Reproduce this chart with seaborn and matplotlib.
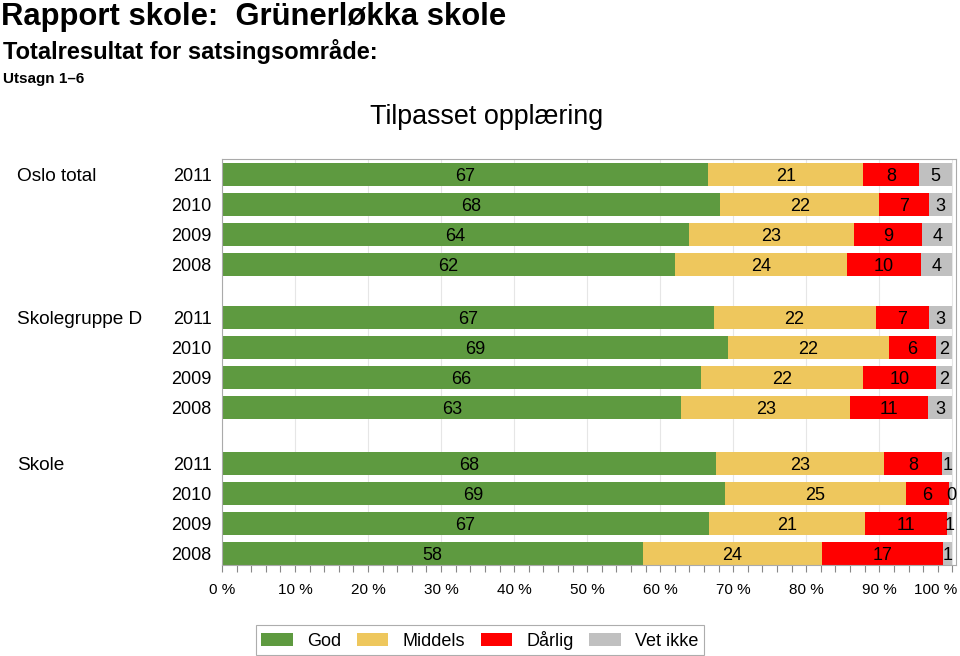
import numpy as np
import pandas as pd
import matplotlib
matplotlib.use("Agg")
import matplotlib.pyplot as plt
import matplotlib.transforms as mtransforms
import seaborn as sns
from matplotlib.patches import Patch
from matplotlib.ticker import MultipleLocator

# Data (percent shares per row)
groups = ["Oslo total", "Skolegruppe D", "Skole"]
years = ["2011", "2010", "2009", "2008"]
categories = ["God", "Middels", "Dårlig", "Vet ikke"]

god = [66.6, 68.2, 63.9, 62.0,
       67.3, 69.3, 65.6, 62.9,
       67.6, 68.9, 66.7, 57.7]
middels = [21.2, 21.8, 22.6, 23.6,
           22.2, 22.0, 22.2, 23.1,
           23.1, 24.7, 21.4, 24.4]
darlig = [7.6, 6.8, 9.4, 10.1,
          7.3, 6.4, 10.0, 10.6,
          7.9, 6.0, 11.2, 16.6]
vet_ikke = [4.6, 3.2, 4.1, 4.3,
            3.2, 2.3, 2.2, 3.4,
            1.4, 0.4, 0.7, 1.3]

colors = ["#5E9A40", "#EEC75D", "#FF0000", "#C0C0C0"]

# row positions: 4 rows per group with a gap between groups
group_start = [0.0, 4.75, 9.62]
ypos = [g + i for g in group_start for i in range(len(years))]

values = np.array([god, middels, darlig, vet_ikke])
cum = np.cumsum(values, axis=0)

rows = []
for k, cat in enumerate(categories):
    for r, y in enumerate(ypos):
        rows.append({"kategori": cat, "y": y, "slutt": cum[k, r],
                     "start": cum[k, r] - values[k, r], "verdi": values[k, r]})
df = pd.DataFrame(rows)

sns.set_style("white")
plt.rcParams["font.family"] = ["Liberation Sans", "DejaVu Sans"]
plt.rcParams["text.color"] = "black"
plt.rcParams["xtick.color"] = "black"

fig = plt.figure(figsize=(9.6, 6.56), dpi=100)
ax = fig.add_axes([222 / 960, 91 / 656, 734 / 960, 406 / 656])

# stacked bars: draw cumulative totals from the longest to the shortest
for k in range(len(categories) - 1, -1, -1):
    sub = df[df["kategori"] == categories[k]]
    sns.barplot(data=sub, x="slutt", y="y", orient="h", native_scale=True,
                color=colors[k], saturation=1, width=0.77, linewidth=0,
                errorbar=None, ax=ax)

narrow = ["Liberation Sans Narrow", "Liberation Sans", "DejaVu Sans"]
for _, row in df.iterrows():
    xc = row["start"] + row["verdi"] / 2
    ax.text(xc, row["y"] + 0.06, f"{round(row['verdi'])}", ha="center", va="center",
            fontsize=13, family=narrow, color="black")

ax.set_xlim(0, 100.5)
ax.set_ylim(13.0, -0.52)
ax.set_xlabel("")
ax.set_ylabel("")
ax.set_yticks([])

ax.set_xticks(list(range(0, 101, 10)))
ax.xaxis.set_minor_locator(MultipleLocator(2))
ax.set_xticklabels([f"{v} %" for v in range(0, 101, 10)], family=narrow, fontsize=11)
ax.tick_params(axis="x", which="both", bottom=True, direction="out", length=5,
               width=0.8, color="#888888", labelcolor="black", pad=8)
last = ax.get_xticklabels()[-1]
last.set_horizontalalignment("right")
last.set_transform(last.get_transform() + mtransforms.ScaledTranslation(5 / 100, 0, fig.dpi_scale_trans))

ax.grid(axis="x", which="major", color="#E6E6E6", linewidth=0.8)
ax.set_axisbelow(True)
for s in ax.spines.values():
    s.set_color("#AAAAAA")
    s.set_linewidth(0.8)

# row and group labels
for r, y in enumerate(ypos):
    ax.text(-0.014, y, years[r % 4], transform=ax.get_yaxis_transform(),
            ha="right", va="center_baseline", fontsize=13)
for g, y0 in zip(groups, group_start):
    yf = ax.transData.transform((0, y0))[1] / fig.bbox.height
    fig.text(17 / 960, yf, g, ha="left", va="center_baseline", fontsize=13.7)

# titles
fig.text(1 / 960, 1 - 17 / 656, "Rapport skole:  Grünerløkka skole", fontsize=22.3,
         fontweight="bold", ha="left", va="center")
fig.text(3 / 960, 1 - 52 / 656, "Totalresultat for satsingsområde:", fontsize=17,
         fontweight="bold", ha="left", va="center")
fig.text(3 / 960, 1 - 79 / 656, "Utsagn 1–6", fontsize=11,
         fontweight="bold", ha="left", va="center")
fig.text(487 / 960, 1 - 117 / 656, "Tilpasset opplæring", fontsize=19.4,
         ha="center", va="center")

handles = [Patch(facecolor=c, edgecolor="none") for c in colors]
leg = fig.legend(handles, categories, loc="center", bbox_to_anchor=(480 / 960, 1 - 640 / 656),
                 ncol=4, fontsize=13, frameon=True, fancybox=False, handlelength=1.75,
                 handleheight=0.7, columnspacing=0.85, handletextpad=0.8,
                 borderpad=0.3, borderaxespad=0)
leg.get_frame().set_edgecolor("#999999")
leg.get_frame().set_linewidth(0.8)

fig.savefig("out.png", dpi=100)
